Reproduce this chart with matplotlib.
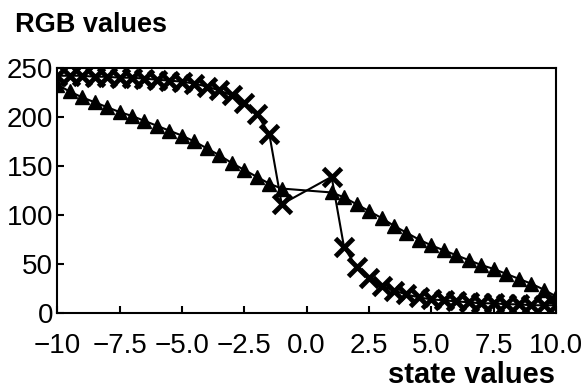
import numpy as np
import matplotlib
matplotlib.use('Agg')
import matplotlib.pyplot as plt

plt.rcParams['font.family'] = ['Liberation Sans', 'DejaVu Sans']

# state values (left and right branches, gap around 0)
x_left = [-10, -9.5, -9, -8.5, -8, -7.5, -7, -6.5, -6, -5.5, -5,
          -4.5, -4, -3.5, -3, -2.5, -2, -1.5, -1]
x_right = [1, 1.5, 2, 2.5, 3, 3.5, 4, 4.5, 5, 5.5, 6,
           6.5, 7, 7.5, 8, 8.5, 9, 9.5, 10]

# triangle series
tri_left = [233, 226, 220, 215, 210, 205, 201, 196, 191, 186, 181,
            175, 168, 161, 153, 146, 139, 132, 127]
tri_right = [123, 118, 111, 104, 97, 89, 82, 75, 69, 64, 59,
             54, 49, 45, 40, 35, 30, 24, 17]

# cross series
crs_left = [242, 242, 242, 241, 241, 240, 240, 239, 238, 237, 236,
            234, 231, 227, 222, 214, 203, 183, 111]
crs_right = [139, 67, 47, 36, 28, 23, 19, 16, 14, 13, 12,
             11, 10, 10, 9, 9, 8, 8, 8]

xticks = [-10, -7.5, -5, -2.5, 0, 2.5, 5, 7.5, 10]
xticklabels = ['\u221210', '\u22127.5', '\u22125.0', '\u22122.5', '0.0',
               '2.5', '5.0', '7.5', '10.0']
yticks = [0, 50, 100, 150, 200, 250]

x_all = x_left + x_right
tri_all = tri_left + tri_right
crs_all = crs_left + crs_right

fig = plt.figure(figsize=(5.83, 3.88), dpi=100)
ax = fig.add_axes([0.098, 0.193, 0.856, 0.632])

ax.plot(x_all, tri_all, color='black', linewidth=1.5, marker='^',
        markersize=10.5, markerfacecolor='black', markeredgecolor='black')
ax.plot(x_all, crs_all, color='black', linewidth=1.5, marker='x',
        markersize=13, markeredgewidth=3.5)

ax.set_xlim(-10, 10)
ax.set_ylim(0, 250)
ax.set_xticks(xticks)
ax.set_xticklabels(xticklabels)
ax.set_yticks(yticks)
ax.tick_params(direction='in', length=5, width=1.5, labelsize=20)
ax.tick_params(axis='x', pad=14)
ax.tick_params(axis='y', pad=3)
for s in ax.spines.values():
    s.set_linewidth(1.5)

fig.text(15 / 583, 1 - 32 / 388, 'RGB values', fontsize=19.5,
         fontweight='bold', ha='left', va='baseline')
fig.text(388 / 583, 1 - 383 / 388, 'state values', fontsize=21,
         fontweight='bold', ha='left', va='baseline')

fig.savefig('out.png', dpi=100)
